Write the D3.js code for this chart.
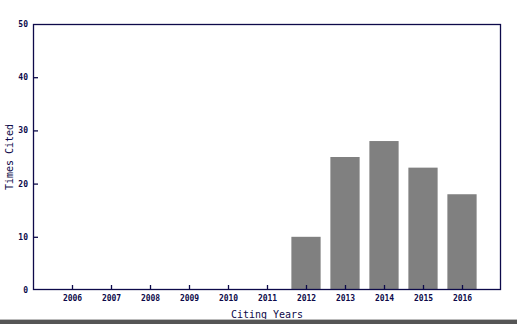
<!DOCTYPE html>
<html><head><meta charset="utf-8">
<script src="https://cdn.jsdelivr.net/npm/d3@7"></script>
<style>body{margin:0;background:#fff}svg{display:block}</style>
</head><body>
<script>
const years = ["2006","2007","2008","2009","2010","2011","2012","2013","2014","2015","2016"];
const cited = [0,0,0,0,0,0,10,25,28,23,18];
const yTicks = [0,10,20,30,40,50];

const W=517,H=324, m={l:33,t:24,r:501,b:290};
const navy="#0d0a4a";
const svg=d3.select("body").append("svg").attr("width",W).attr("height",H);
const x=d3.scalePoint().domain(years).range([m.l,m.r]).padding(1);
const y=d3.scaleLinear().domain([0,50]).range([m.b,m.t]);
const bw=x.step()*0.75;

svg.selectAll("rect.bar").data(years).enter().append("rect")
  .attr("x",d=>x(d)-bw/2).attr("width",bw)
  .attr("y",(d,i)=>y(cited[i])).attr("height",(d,i)=>m.b-y(cited[i]))
  .attr("fill","#808080");

svg.append("rect").attr("x",m.l+0.5).attr("y",m.t+0.5).attr("width",m.r-m.l-1).attr("height",m.b-m.t-1)
  .attr("fill","none").attr("stroke",navy).attr("stroke-width",1.3);

const font="'DejaVu Sans Mono', monospace";
const xa=svg.append("g").attr("transform",`translate(0,${m.b})`)
  .call(d3.axisBottom(x).tickSize(-5).tickPadding(5));
const ya=svg.append("g").attr("transform",`translate(${m.l},0)`)
  .call(d3.axisLeft(y).tickValues(yTicks).tickSize(-5).tickPadding(5));
[xa,ya].forEach(a=>{
  a.select(".domain").remove();
  a.selectAll("line").attr("stroke",navy).attr("stroke-width",1.3);
  a.selectAll("text").attr("fill",navy).style("font-family",font).style("font-size","8px").style("font-weight","bold");
});
ya.selectAll("line").filter(d=>d===0||d===50).remove();

svg.append("text").attr("x",(m.l+m.r)/2).attr("y",318).attr("text-anchor","middle")
  .style("font-family",font).style("font-size","10px").attr("fill",navy).text("Citing Years");
svg.append("text").attr("transform",`translate(13,${(m.t+m.b)/2}) rotate(-90)`).attr("text-anchor","middle")
  .style("font-family",font).style("font-size","10px").attr("fill",navy).text("Times Cited");

svg.append("rect").attr("x",0).attr("y",319).attr("width",W).attr("height",1).attr("fill","#bbbbbb");
svg.append("rect").attr("x",0).attr("y",320).attr("width",W).attr("height",4).attr("fill","#555555");
</script>
</body></html>
